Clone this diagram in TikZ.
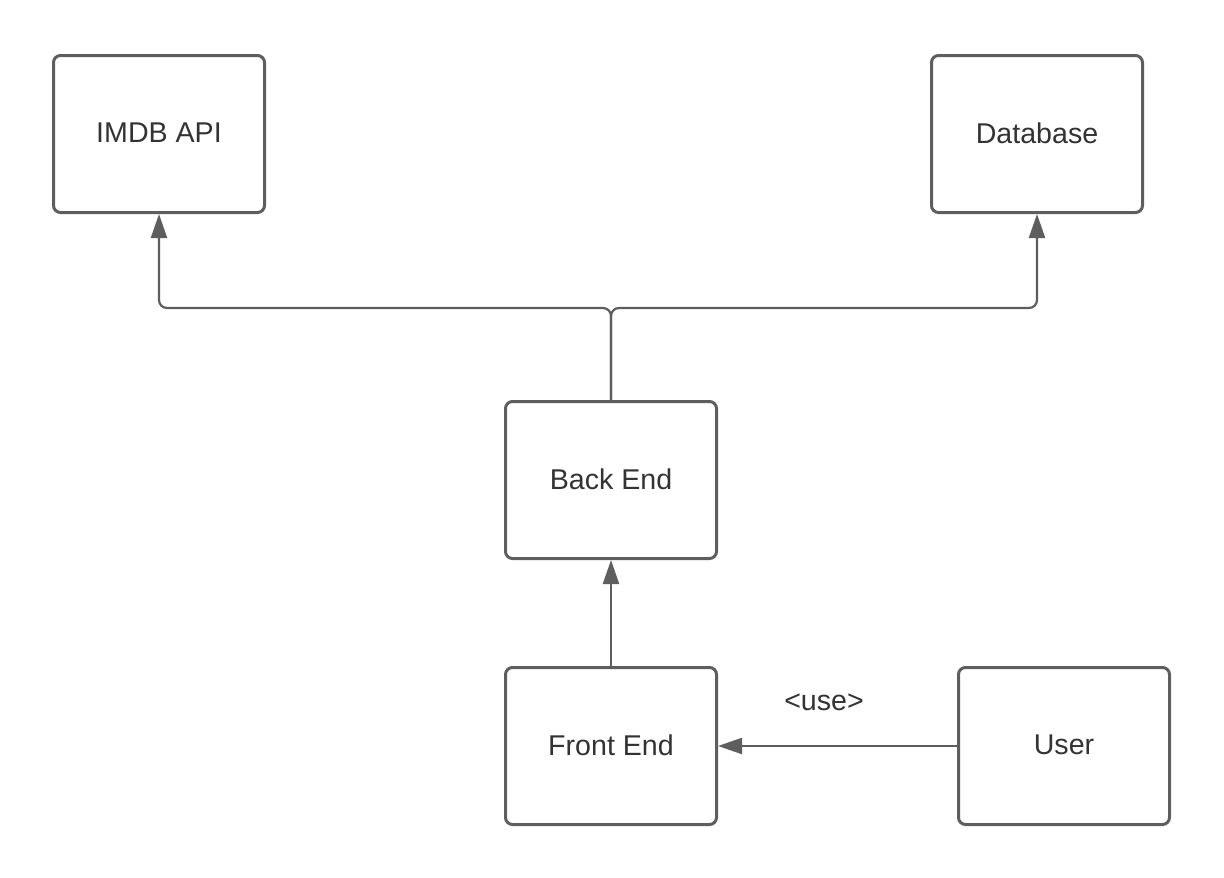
\documentclass[tikz,border=0pt]{standalone}
\usepackage{fontspec}
\setmainfont{Liberation Sans}
\usetikzlibrary{arrows.meta}
\definecolor{linec}{HTML}{5E5E5E}
\definecolor{textc}{HTML}{333333}
\tikzset{
  box/.style={draw=linec, line width=3pt, rounded corners=7pt, minimum width=211pt, minimum height=157pt, inner sep=0pt, text=textc, font=\fontsize{28.6}{32}\selectfont},
  conn/.style={draw=linec, line width=2.2pt, -{Triangle[length=24pt,width=16pt]}},
  lbl/.style={text=textc, font=\fontsize{28.6}{32}\selectfont, inner sep=0pt}
}
\begin{document}
\begin{tikzpicture}[x=1pt,y=-1pt]
\useasboundingbox (0,0) rectangle (1224,878);
\node[box] (imdb) at (159,134) {\raisebox{2pt}{IMDB API}};
\node[box] (db) at (1037,134) {\raisebox{2pt}{Database}};
\node[box] (be) at (611,480) {\raisebox{2pt}{Back End}};
\node[box] (fe) at (611,746) {\raisebox{2pt}{Front End}};
\node[box] (user) at (1064,746) {\raisebox{2pt}{User}};
\coordinate (split) at (611,308);
\draw[conn, rounded corners=8pt] (be.north) -- (split) -| (imdb.south);
\draw[conn, rounded corners=8pt] (be.north) -- (split) -| (db.south);
\draw[conn] (fe.north) -- (be.south);
\draw[conn] (user.west) -- (fe.east);
\node[lbl] (use) at (824,702) {<use>};
\end{tikzpicture}
\end{document}
